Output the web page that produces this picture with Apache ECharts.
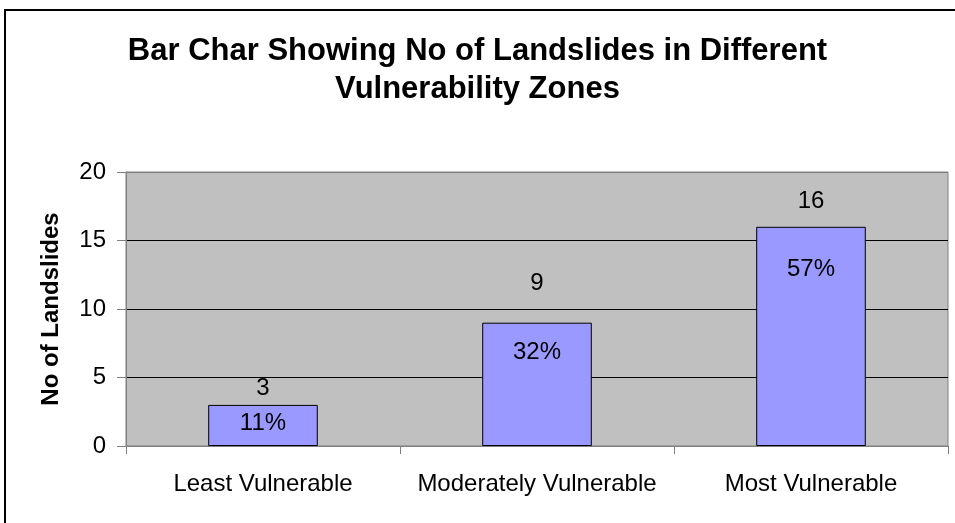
<!DOCTYPE html>
<html>
<head>
<meta charset="utf-8">
<script src="https://cdn.jsdelivr.net/npm/echarts@6/dist/echarts.min.js"></script>
<style>
  html, body { margin: 0; padding: 0; background: #fff; }
  #chart { width: 955px; height: 523px; }
</style>
</head>
<body>
<div id="chart"></div>
<script>
// data
const zones = ['Least Vulnerable', 'Moderately Vulnerable', 'Most Vulnerable']
const landslides = [3, 9, 16]
const shareLabels = ['11%', '32%', '57%']
const yTicks = [0, 5, 10, 15, 20]

// label nudges, the original labels were dragged by hand
const countDist = [5, 27, 13]
const shareDist = [6, 18, 31]

const font = 'Liberation Sans, Arial, sans-serif'

let chart = echarts.init(document.getElementById('chart'))
let option = {
  animation: false,
  backgroundColor: '#fff',
  textStyle: { fontFamily: font },
  graphic: [
    {
      type: 'rect',
      shape: { x: 5, y: 10, width: 1000, height: 600 },
      style: { fill: 'none', stroke: '#000', lineWidth: 2 },
      silent: true
    }
  ],
  title: {
    text: 'Bar Char Showing No of Landslides in Different\nVulnerability Zones',
    left: 'center',
    top: 27,
    textStyle: {
      fontFamily: font,
      fontSize: 31,
      fontWeight: 'bold',
      color: '#000',
      lineHeight: 38
    }
  },
  grid: {
    left: 126,
    right: 7,
    top: 172,
    bottom: 77,
    show: true,
    backgroundColor: '#C0C0C0',
    borderColor: '#808080',
    borderWidth: 1
  },
  xAxis: {
    type: 'category',
    data: zones,
    axisLine: { lineStyle: { color: '#808080', width: 1 } },
    axisTick: { show: true, length: 8, lineStyle: { color: '#808080' } },
    axisLabel: { interval: 0, fontSize: 24, color: '#000', margin: 26, fontFamily: font }
  },
  yAxis: {
    type: 'value',
    min: yTicks[0],
    max: yTicks[yTicks.length - 1],
    interval: yTicks[1] - yTicks[0],
    name: 'No of Landslides',
    nameLocation: 'middle',
    nameGap: 63,
    nameTextStyle: { fontSize: 24, fontWeight: 'bold', color: '#000', fontFamily: font },
    axisLine: { show: true, lineStyle: { color: '#808080', width: 1 } },
    axisTick: { show: true, length: 9, lineStyle: { color: '#808080' } },
    axisLabel: { fontSize: 24, color: '#000', margin: 20, fontFamily: font },
    splitLine: {
      show: true,
      lineStyle: { color: ['#808080', '#000', '#000', '#000', '#808080'], width: 1 }
    }
  },
  series: [
    {
      type: 'bar',
      barWidth: '40%',
      barGap: '-100%',
      itemStyle: { color: '#9999FF', borderColor: '#000', borderWidth: 1 },
      data: landslides.map((v, i) => ({
        value: v,
        label: { distance: countDist[i] }
      })),
      label: {
        show: true,
        position: 'top',
        fontSize: 24,
        color: '#000',
        fontFamily: font
      }
    },
    {
      type: 'bar',
      barWidth: '40%',
      barGap: '-100%',
      silent: true,
      itemStyle: { color: 'rgba(0,0,0,0)' },
      data: landslides.map((v, i) => ({
        value: v,
        label: { distance: shareDist[i] }
      })),
      label: {
        show: true,
        position: 'insideTop',
        fontSize: 24,
        color: '#000',
        fontFamily: font,
        formatter: p => shareLabels[p.dataIndex]
      }
    }
  ]
}
chart.setOption(option)
</script>
</body>
</html>
